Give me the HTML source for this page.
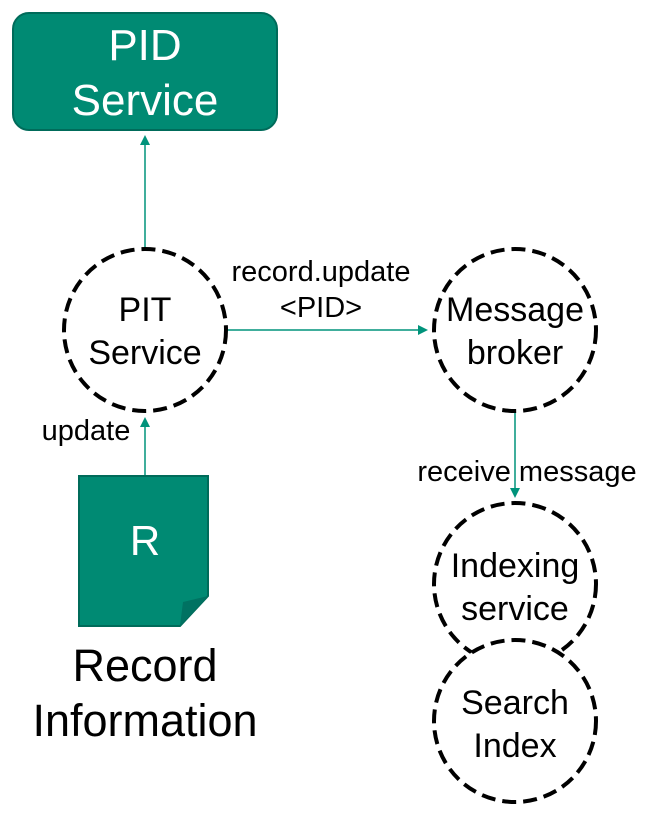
<!DOCTYPE html>
<html><head><style>body{margin:0;background:#fff}</style></head><body>
<svg width="657" height="818" viewBox="0 0 657 818" xmlns="http://www.w3.org/2000/svg" font-family="Liberation Sans, Arial, sans-serif">
<defs><marker id="a" markerWidth="10" markerHeight="10" refX="5" refY="5" orient="auto" markerUnits="userSpaceOnUse"><path d="M0,0 L10,5 L0,10 z" fill="#00937b"/></marker></defs>
<rect x="13" y="13" width="264" height="117" rx="16" fill="#008a73" stroke="#006b5a" stroke-width="2"/>
<text x="145" y="60" font-size="44" fill="#fff" text-anchor="middle">PID</text>
<text x="145" y="115" font-size="44" fill="#fff" text-anchor="middle">Service</text>
<g stroke="#00937b" stroke-width="1.5" fill="none">
<line x1="145" y1="248" x2="145" y2="140" marker-end="url(#a)"/>
<line x1="145" y1="476" x2="145" y2="422" marker-end="url(#a)"/>
<line x1="227" y1="330" x2="423" y2="330" marker-end="url(#a)"/>
<line x1="515" y1="412" x2="515" y2="493" marker-end="url(#a)"/>
</g>
<g fill="#fff" stroke="#000" stroke-width="4" stroke-dasharray="14 7">
<circle cx="145" cy="330" r="81"/>
<circle cx="515" cy="330" r="81"/>
<ellipse cx="515" cy="584" rx="81" ry="81"/>
<circle cx="515" cy="721" r="81"/>
</g>
<g font-size="34" text-anchor="middle" fill="#000">
<text x="145" y="321">PIT</text><text x="145" y="364">Service</text>
<text x="515" y="321">Message</text><text x="515" y="364">broker</text>
<text x="515" y="577">Indexing</text><text x="515" y="620">service</text>
<text x="515" y="714">Search</text><text x="515" y="757">Index</text>
</g>
<g font-size="29" fill="#000" text-anchor="middle">
<text x="321" y="281">record.update</text>
<text x="321" y="317">&lt;PID&gt;</text>
<text x="86" y="440">update</text>
<text x="527" y="481">receive message</text>
</g>
<path d="M79,476 H208 V596 L180,626 H79 Z" fill="#008a73" stroke="#006b5a" stroke-width="2"/>
<path d="M208,596 L183,602 L180,626 Z" fill="#007262"/>
<text x="145" y="555" font-size="42" fill="#fff" text-anchor="middle">R</text>
<text x="145" y="681" font-size="45" text-anchor="middle">Record</text>
<text x="145" y="736" font-size="45" text-anchor="middle">Information</text>
</svg>
</body></html>
